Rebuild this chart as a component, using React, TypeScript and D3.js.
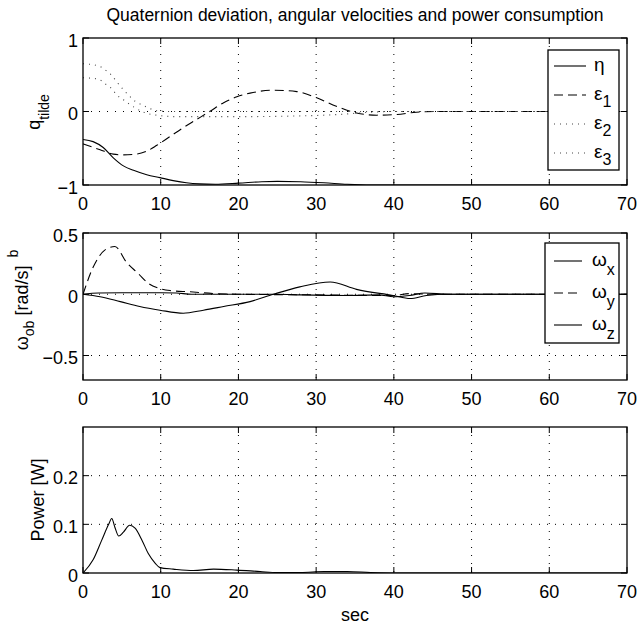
import React, { useEffect, useRef } from "react"
import * as d3 from "d3"

// time axis (sec)
const xTicks = [0, 10, 20, 30, 40, 50, 60, 70]

// quaternion deviation
const eta: [number, number][] = [[0,-0.38],[1.3,-0.41],[2.6,-0.49],[3.9,-0.63],[5.2,-0.74],[6.5,-0.8],[8.2,-0.86],[9.9,-0.9],[11.6,-0.94],[13.3,-0.97],[15,-0.985],[17,-0.99],[20,-0.975],[23,-0.955],[25,-0.95],[28,-0.955],[31,-0.97],[34,-0.99],[37,-1],[70,-1]]
const eps1: [number, number][] = [[0,-0.44],[2.2,-0.52],[3.9,-0.58],[5.2,-0.59],[6.9,-0.58],[8.2,-0.54],[9.5,-0.46],[11.2,-0.34],[12.9,-0.22],[14.6,-0.11],[16.3,0],[18.1,0.12],[19.8,0.2],[21.5,0.25],[24.5,0.29],[27.5,0.27],[30,0.19],[32.6,0.07],[35.2,-0.02],[37.8,-0.05],[40.4,-0.04],[42.9,-0.01],[46,0],[70,0]]
const eps2: [number, number][] = [[0,0.65],[2,0.62],[2.8,0.57],[3.7,0.49],[4.3,0.41],[5,0.32],[5.8,0.23],[6.7,0.14],[7.6,0.09],[8.4,0.05],[9.5,0.01],[11,0],[70,0]]
const eps3: [number, number][] = [[0,0.46],[2,0.44],[2.8,0.38],[3.7,0.31],[4.3,0.23],[5.2,0.16],[6.1,0.09],[6.7,0.05],[7.6,0],[8.4,-0.03],[9.5,-0.05],[12,-0.07],[20,-0.07],[28,-0.06],[33,-0.04],[37,-0.01],[40,0],[70,0]]

// angular velocities
const omegaX: [number, number][] = [[0,0],[2.2,-0.02],[4.8,-0.06],[7.3,-0.1],[9.9,-0.13],[12.9,-0.155],[15.5,-0.13],[18.1,-0.1],[21.5,-0.06],[24.5,0],[27.9,0.06],[31.8,0.1],[35.2,0.04],[39.9,-0.01],[42.1,-0.035],[44.2,-0.01],[47,0],[70,0]]
const omegaY: [number, number][] = [[0,0],[1.3,0.22],[2.8,0.36],[4.1,0.39],[5.6,0.26],[7.1,0.17],[8.4,0.09],[9.7,0.05],[11.2,0.03],[13.8,0.02],[16.8,0.006],[20,0],[30,-0.005],[38,-0.01],[40,-0.01],[42,0.005],[45,0],[70,0]]
const omegaZ: [number, number][] = [[0,0],[2,0.01],[5,0.012],[10,0.012],[12,0.01],[14,0],[25,0],[28,-0.005],[34,-0.01],[38,-0.005],[40,-0.02],[42,-0.01],[44,0.01],[47,0],[70,0]]

// power consumption
const power: [number, number][] = [[0,0],[1.3,0.027],[2.4,0.067],[3.3,0.1],[3.7,0.112],[4.1,0.094],[4.6,0.076],[5.2,0.084],[6,0.098],[6.7,0.092],[7.6,0.067],[8.4,0.04],[9.3,0.02],[9.9,0.011],[11.6,0.008],[14.2,0.005],[16.8,0.008],[19.8,0.006],[22.8,0.003],[25,0.001],[28,0.001],[31,0.003],[34,0.003],[37,0.001],[40,0],[70,0]]

const FONT = "'Liberation Sans Narrow', 'Arial Narrow', 'Liberation Sans', Arial, sans-serif"

const panels = [
    { top: 38, bottom: 185, domain: [-1, 1], ticks: [-1, 0, 1], labels: ["\u22121", "0", "1"], grid: [0] },
    { top: 233, bottom: 380, domain: [-0.7, 0.5], ticks: [-0.5, 0, 0.5], labels: ["\u22120.5", "0", "0.5"], grid: [-0.5, 0] },
    { top: 427, bottom: 573, domain: [0, 0.3], ticks: [0, 0.1, 0.2], labels: ["0", "0.1", "0.2"], grid: [0.1, 0.2] },
]

export default function App() {
    const ref = useRef<SVGSVGElement>(null)

    useEffect(() => {
        const svg = d3.select(ref.current)
        svg.selectAll("*").remove()
        svg.append("rect").attr("width", 637).attr("height", 628).attr("fill", "white")

        const xScale = d3.scaleLinear().domain([0, 70]).range([83, 627])
        const series = [
            [{ d: eta, dash: null, c: "#000" }, { d: eps1, dash: "9,5", c: "#000" }, { d: eps2, dash: "1,5", c: "#444" }, { d: eps3, dash: "1,5", c: "#444" }],
            [{ d: omegaX, dash: null, c: "#000" }, { d: omegaY, dash: "9,5", c: "#000" }, { d: omegaZ, dash: null, c: "#000" }],
            [{ d: power, dash: null, c: "#000" }],
        ]

        panels.forEach((p, pi) => {
            const yScale = d3.scaleLinear().domain(p.domain).range([p.bottom, p.top])
            const g = svg.append("g")

            g.append("clipPath").attr("id", "clip" + pi)
                .append("rect").attr("x", 83).attr("y", p.top).attr("width", 544).attr("height", p.bottom - p.top)

            // grid
            xTicks.slice(1, -1).forEach(t => {
                g.append("line")
                    .attr("x1", xScale(t)).attr("x2", xScale(t))
                    .attr("y1", p.top).attr("y2", p.bottom)
                    .attr("stroke", "#000").attr("stroke-width", 1)
                    .attr("stroke-dasharray", "1,7")
            })
            p.grid.forEach(v => {
                g.append("line")
                    .attr("x1", 83).attr("x2", 627)
                    .attr("y1", yScale(v)).attr("y2", yScale(v))
                    .attr("stroke", "#000").attr("stroke-width", 1)
                    .attr("stroke-dasharray", "1,7")
            })

            // curves
            const line = d3.line<[number, number]>()
                .x(d => xScale(d[0]))
                .y(d => yScale(d[1]))
                .curve(d3.curveMonotoneX)
            series[pi].forEach(s => {
                g.append("path")
                    .attr("d", line(s.d))
                    .attr("fill", "none")
                    .attr("stroke", s.c)
                    .attr("stroke-width", 1.1)
                    .attr("stroke-dasharray", s.dash)
                    .attr("clip-path", "url(#clip" + pi + ")")
            })

            // ticks inside, all four sides
            xTicks.forEach(t => {
                g.append("line").attr("x1", xScale(t)).attr("x2", xScale(t))
                    .attr("y1", p.bottom).attr("y2", p.bottom - 6).attr("stroke", "#000")
                g.append("line").attr("x1", xScale(t)).attr("x2", xScale(t))
                    .attr("y1", p.top).attr("y2", p.top + 6).attr("stroke", "#000")
                g.append("text")
                    .attr("x", xScale(t)).attr("y", p.bottom + 25)
                    .attr("text-anchor", "middle")
                    .attr("font-family", FONT).attr("font-size", 18)
                    .text(t)
            })
            p.ticks.forEach((v, i) => {
                g.append("line").attr("x1", 83).attr("x2", 89)
                    .attr("y1", yScale(v)).attr("y2", yScale(v)).attr("stroke", "#000")
                g.append("line").attr("x1", 627).attr("x2", 621)
                    .attr("y1", yScale(v)).attr("y2", yScale(v)).attr("stroke", "#000")
                g.append("text")
                    .attr("x", 78).attr("y", yScale(v) + 8.5)
                    .attr("text-anchor", "end")
                    .attr("font-family", FONT).attr("font-size", 18)
                    .text(p.labels[i])
            })

            g.append("rect")
                .attr("x", 83).attr("y", p.top)
                .attr("width", 544).attr("height", p.bottom - p.top)
                .attr("fill", "none").attr("stroke", "#000").attr("stroke-width", 1.3)
        })

        // title and axis labels
        svg.append("text").attr("x", 355).attr("y", 21)
            .attr("text-anchor", "middle").attr("font-family", FONT).attr("font-size", 17.5)
            .text("Quaternion deviation, angular velocities and power consumption")
        svg.append("text").attr("x", 355).attr("y", 621)
            .attr("text-anchor", "middle").attr("font-family", FONT).attr("font-size", 18)
            .text("sec")

        const q = svg.append("text").attr("transform", "translate(40,112) rotate(-90)")
            .attr("text-anchor", "middle").attr("font-family", FONT).attr("font-size", 18)
        q.append("tspan").text("q")
        q.append("tspan").attr("dy", 9).attr("font-size", 14).text("tilde")

        const w = svg.append("text").attr("transform", "translate(28,300) rotate(-90)")
            .attr("text-anchor", "middle").attr("font-family", FONT).attr("font-size", 18)
        w.append("tspan").text("\u03c9")
        w.append("tspan").attr("dy", 6).attr("font-size", 14).text("ob")
        w.append("tspan").attr("dy", -6).text(" [rad/s]")
        w.append("tspan").attr("dx", 8).attr("dy", -10).attr("font-size", 14).text("b")

        svg.append("text").attr("transform", "translate(44,500) rotate(-90)")
            .attr("text-anchor", "middle").attr("font-family", FONT).attr("font-size", 18)
            .text("Power [W]")

        // legends
        const legend = (x0: number, y0: number, w0: number, h0: number, rows: any[], lx: number[], tx: number, sub: number) => {
            const lg = svg.append("g")
            lg.append("rect").attr("x", x0).attr("y", y0).attr("width", w0).attr("height", h0)
                .attr("fill", "white").attr("stroke", "#000").attr("stroke-width", 1.3)
            rows.forEach(r => {
                lg.append("line").attr("x1", lx[0]).attr("x2", lx[1])
                    .attr("y1", r.y).attr("y2", r.y)
                    .attr("stroke", r.c).attr("stroke-width", 1.1)
                    .attr("stroke-dasharray", r.dash)
                const t = lg.append("text").attr("x", tx).attr("y", r.y + 5)
                    .attr("font-family", FONT).attr("font-size", 19)
                t.append("tspan").text(r.sym)
                if (r.sub) t.append("tspan").attr("dy", sub).attr("font-size", 16).text(r.sub)
            })
        }
        legend(548, 50, 71, 120, [
            { y: 66, sym: "\u03b7", sub: "", dash: null, c: "#000" },
            { y: 95, sym: "\u03b5", sub: "1", dash: "9,5", c: "#000" },
            { y: 124, sym: "\u03b5", sub: "2", dash: "1,5", c: "#444" },
            { y: 153, sym: "\u03b5", sub: "3", dash: "1,5", c: "#444" },
        ], [554, 586], 594, 7)
        legend(545, 243, 74, 100, [
            { y: 261, sym: "\u03c9", sub: "x", dash: null, c: "#000" },
            { y: 293, sym: "\u03c9", sub: "y", dash: "9,5", c: "#000" },
            { y: 325, sym: "\u03c9", sub: "z", dash: null, c: "#000" },
        ], [554, 582], 592, 9)
    }, [])

    return (
        <div style={{ position: "absolute", left: 0, top: 0 }}>
            <svg ref={ref} width={637} height={628} style={{ display: "block" }} />
        </div>
    )
}
